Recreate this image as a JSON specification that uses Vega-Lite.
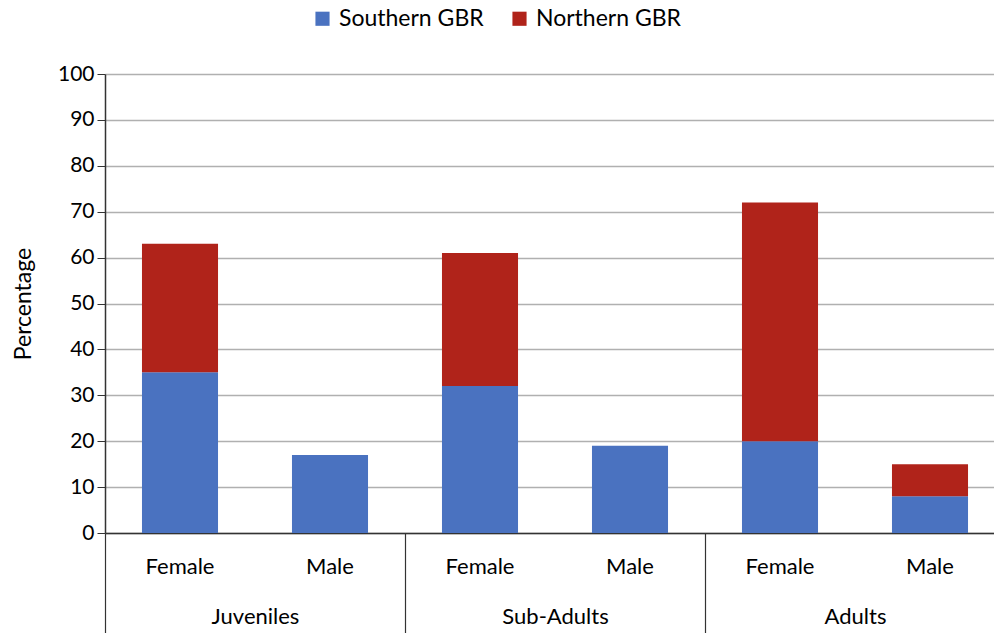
{
  "$schema": "https://vega.github.io/schema/vega-lite/v6.json",
  "autosize": "none",
  "width": 889,
  "height": 459,
  "padding": {"left": 105, "top": 74, "right": 0, "bottom": 100},
  "background": "white",
  "config": {
    "font": "Lato",
    "view": {"stroke": null},
    "axis": {"labelFont": "Lato", "titleFont": "Lato", "labelColor": "#000", "titleColor": "#000"}
  },
  "data": {
    "values": [
      {"group": "Juveniles", "sex": "Female", "region": "Southern GBR", "value": 35},
      {"group": "Juveniles", "sex": "Female", "region": "Northern GBR", "value": 28},
      {"group": "Juveniles", "sex": "Male", "region": "Southern GBR", "value": 17},
      {"group": "Juveniles", "sex": "Male", "region": "Northern GBR", "value": 0},
      {"group": "Sub-Adults", "sex": "Female", "region": "Southern GBR", "value": 32},
      {"group": "Sub-Adults", "sex": "Female", "region": "Northern GBR", "value": 29},
      {"group": "Sub-Adults", "sex": "Male", "region": "Southern GBR", "value": 19},
      {"group": "Sub-Adults", "sex": "Male", "region": "Northern GBR", "value": 0},
      {"group": "Adults", "sex": "Female", "region": "Southern GBR", "value": 20},
      {"group": "Adults", "sex": "Female", "region": "Northern GBR", "value": 52},
      {"group": "Adults", "sex": "Male", "region": "Southern GBR", "value": 8},
      {"group": "Adults", "sex": "Male", "region": "Northern GBR", "value": 7}
    ]
  },
  "encoding": {
    "x": {
      "field": "group",
      "type": "nominal",
      "sort": ["Juveniles", "Sub-Adults", "Adults"],
      "scale": {"range": [0, 900], "paddingInner": 0, "paddingOuter": 0},
      "axis": {
        "title": null,
        "labelAngle": 0,
        "labelFontSize": 22,
        "labelPadding": -27,
        "labelBaseline": "top",
        "tickBand": "extent",
        "tickSize": 100,
        "tickColor": "#333",
        "tickWidth": 1.2,
        "domainColor": "#333",
        "domainWidth": 1.5,
        "grid": false
      }
    },
    "xOffset": {
      "field": "sex",
      "type": "nominal",
      "sort": ["Female", "Male"],
      "scale": {"paddingInner": 0.493, "paddingOuter": 0.2465}
    }
  },
  "layer": [
    {
      "mark": {"type": "bar"},
      "encoding": {
        "y": {
          "field": "value",
          "type": "quantitative",
          "stack": "zero",
          "scale": {"domain": [0, 100], "nice": false},
          "axis": {
            "title": "Percentage",
            "titleFontSize": 23,
            "titleFontWeight": "normal",
            "titlePadding": 22,
            "labelFontSize": 21,
            "labelPadding": 3,
            "labelOverlap": false,
            "tickSize": 8,
            "tickColor": "#333",
            "values": [0, 10, 20, 30, 40, 50, 60, 70, 80, 90, 100],
            "domainColor": "#333",
            "domainWidth": 1.5,
            "grid": true,
            "gridColor": "#b0b0b0",
            "gridWidth": 1.5
          }
        },
        "color": {
          "field": "region",
          "type": "nominal",
          "scale": {"domain": ["Southern GBR", "Northern GBR"], "range": ["#4a72c0", "#b0231a"]},
          "legend": {
            "title": null,
            "orient": "none",
            "direction": "horizontal",
            "legendX": 206,
            "legendY": -67,
            "symbolType": "square",
            "symbolSize": 200,
            "symbolStrokeWidth": 0,
            "labelFontSize": 23,
            "labelOffset": 5,
            "columnPadding": 24,
            "labelColor": "#000",
            "labelFont": "Lato"
          }
        },
        "order": {"field": "region", "sort": "descending"}
      }
    },
    {
      "transform": [{"filter": "datum.region === 'Southern GBR'"}],
      "mark": {"type": "text", "fontSize": 22, "baseline": "middle", "color": "#000", "font": "Lato", "clip": false},
      "encoding": {
        "y": {"datum": -7.4, "type": "quantitative"},
        "text": {"field": "sex"}
      }
    }
  ]
}
